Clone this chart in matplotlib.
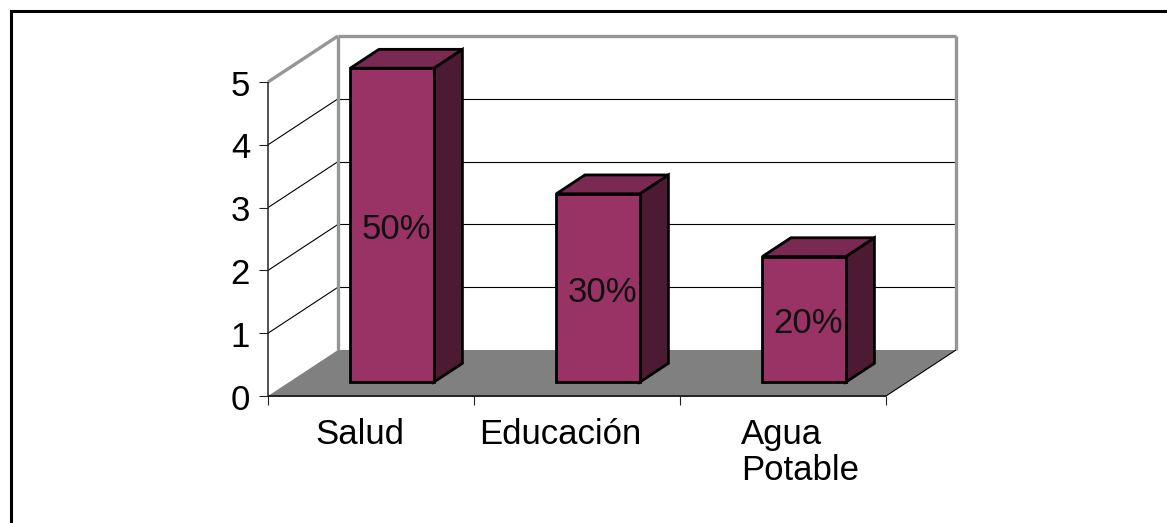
import matplotlib
matplotlib.use("Agg")
import matplotlib.pyplot as plt
from matplotlib.patches import Polygon

categories = ["Salud", "Educación", "Agua\nPotable"]
values = [5, 3, 2]
percent_labels = ["50%", "30%", "20%"]
y_ticks = [0, 1, 2, 3, 4, 5]

# chart box, in image pixels
X0, Y0 = 268, 396
WIDTH, UNIT = 618, 62.8
DX, DY = 70, 46
Y_MAX = 5
BAR_W = 0.405
D_FRONT, D_BACK = 0.3, 0.71

FACE = "#993366"
TOP = "#7a2952"
SIDE = "#4d1a33"
FLOOR = "#808080"
WALL = "#969696"
DARK = "#222222"


def pt(u, v, d=0.0):
    # u: category position, v: value, d: depth 0..1
    slot = WIDTH / len(categories)
    return (X0 + u * slot + d * DX, Y0 - v * UNIT - d * DY)


def line(ax, a, b, color="black", lw=0.8, z=2):
    ax.plot([a[0], b[0]], [a[1], b[1]], color=color, lw=lw, zorder=z, solid_capstyle="butt")


fig = plt.figure(figsize=(11.67, 5.23), dpi=100)
ax = fig.add_axes([0, 0, 1, 1])
ax.set_xlim(0, 1167)
ax.set_ylim(523, 0)
ax.axis("off")
plt.rcParams["font.family"] = "Liberation Sans"

# outer frame, only top and left show
ax.plot([10.5, 10.5], [523, 11], color="black", lw=2.2, zorder=1)
ax.plot([10.5, 1167], [11, 11], color="black", lw=2.2, zorder=1)

n = len(categories)

# floor
ax.add_patch(Polygon([pt(0, 0), pt(n, 0), pt(n, 0, 1), pt(0, 0, 1)], facecolor=FLOOR, edgecolor="none", zorder=1))

# grid on back and side walls
for t in y_ticks[1:-1]:
    line(ax, pt(0, t), pt(0, t, 1))
    line(ax, pt(0, t, 1), pt(n, t, 1))

# walls
line(ax, pt(0, 0, 1), pt(0, Y_MAX, 1), WALL, 2.4, 3)
line(ax, pt(n, 0, 1), pt(n, Y_MAX, 1), WALL, 2.4, 3)
line(ax, pt(0, Y_MAX, 1), pt(n, Y_MAX, 1), WALL, 2.4, 3)
line(ax, pt(0, Y_MAX), pt(0, Y_MAX, 1), WALL, 2.4, 3)
line(ax, pt(n, 0), pt(n, 0, 1), "black", 0.8, 3)

# axes and ticks
line(ax, pt(0, 0), pt(0, Y_MAX), DARK, 1.1, 3)
line(ax, pt(0, 0), pt(n, 0), DARK, 1.4, 3)
for t in y_ticks:
    x, y = pt(0, t)
    line(ax, (x - 9, y), (x, y), DARK, 0.8, 3)
    ax.text(x - 18, y + 4, str(t), fontsize=25, ha="right", va="center", color="black", zorder=6)
for i in range(n + 1):
    x, y = pt(i, 0)
    line(ax, (x, y), (x, y + 9), DARK, 0.8, 3)

# bars
for i, v in enumerate(values):
    l, r = i + 0.5 - BAR_W / 2, i + 0.5 + BAR_W / 2
    edge = dict(edgecolor="black", linewidth=2.0, joinstyle="miter", zorder=4)
    ax.add_patch(Polygon([pt(r, 0, D_FRONT), pt(r, 0, D_BACK), pt(r, v, D_BACK), pt(r, v, D_FRONT)], facecolor=SIDE, **edge))
    ax.add_patch(Polygon([pt(l, v, D_FRONT), pt(r, v, D_FRONT), pt(r, v, D_BACK), pt(l, v, D_BACK)], facecolor=TOP, **edge))
    ax.add_patch(Polygon([pt(l, 0, D_FRONT), pt(r, 0, D_FRONT), pt(r, v, D_FRONT), pt(l, v, D_FRONT)], facecolor=FACE, **edge))
    x, y = pt(i + 0.5, v / 2, D_FRONT)
    ax.text(x + 4, y + 4, percent_labels[i], fontsize=25, ha="center", va="center", color="#111111", zorder=6)

# category labels
for i, c in enumerate(categories):
    x, y = pt(i + 0.5, 0)
    if "\n" in c:
        first, second = c.split("\n")
        ax.text(x - 42, y + 48, first, fontsize=25, ha="left", va="baseline")
        ax.text(x - 42, y + 84, second, fontsize=25, ha="left", va="baseline")
    else:
        ax.text(x - 11 - 6 * i, y + 48, c, fontsize=25, ha="center", va="baseline")

fig.savefig("out.png", dpi=100)
